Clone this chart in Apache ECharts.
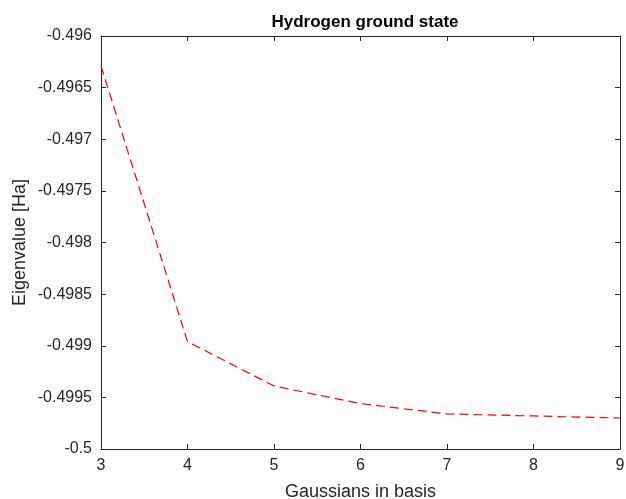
<!DOCTYPE html>
<html>
<head>
<meta charset="utf-8">
<script src="https://cdn.jsdelivr.net/npm/echarts@6/dist/echarts.min.js"></script>
<style>
  html, body { margin: 0; padding: 0; background: #fff; }
  #chart { width: 626px; height: 499px; }
</style>
</head>
<body>
<div id="chart"></div>
<script>
// Number of Gaussians in the basis and the resulting ground-state eigenvalue
const basisSizes = [3, 4, 5, 6, 7, 8, 9];
const eigenvalues = [-0.49629, -0.49896, -0.49939, -0.49956, -0.49966, -0.49968, -0.49970];

const axisColor = '#262626';
const fontFamily = 'Liberation Sans, Arial, Helvetica, sans-serif';

const fmtY = v => parseFloat(v.toFixed(4)).toString();

const chart = echarts.init(document.getElementById('chart'), null, { renderer: 'canvas' });

const baseX = {
  type: 'value', min: 3, max: 9, interval: 1,
  axisLine: { show: true, lineStyle: { color: axisColor, width: 1 } },
  axisTick: { show: true, inside: true, length: 5, lineStyle: { color: axisColor } },
  splitLine: { show: false }
};
const baseY = {
  type: 'value', min: -0.5, max: -0.496, interval: 0.0005,
  axisLine: { show: true, lineStyle: { color: axisColor, width: 1 } },
  axisTick: { show: true, inside: true, length: 5, lineStyle: { color: axisColor } },
  splitLine: { show: false }
};

chart.setOption({
  animation: false,
  backgroundColor: '#fff',
  title: {
    text: 'Hydrogen ground state',
    left: 360, top: 9, textAlign: 'center',
    textStyle: { fontFamily, fontSize: 17, fontWeight: 'bold', color: '#000' }
  },
  grid: { left: 101, right: 6, top: 36, bottom: 50, containLabel: false, outerBoundsMode: 'none' },
  xAxis: [
    Object.assign({}, baseX, {
      position: 'bottom',
      name: 'Gaussians in basis', nameLocation: 'middle', nameGap: 34,
      nameMoveOverlap: false,
      nameTextStyle: { fontFamily, fontSize: 18, color: axisColor },
      axisLabel: { fontFamily, fontSize: 16, color: axisColor, margin: 9 }
    }),
    Object.assign({}, baseX, { position: 'top', axisLabel: { show: false } })
  ],
  yAxis: [
    Object.assign({}, baseY, {
      position: 'left',
      name: 'Eigenvalue [Ha]', nameLocation: 'middle', nameGap: 72,
      nameMoveOverlap: false,
      nameTextStyle: { fontFamily, fontSize: 18, color: axisColor },
      axisLabel: { fontFamily, fontSize: 16, color: axisColor, margin: 9, formatter: fmtY }
    }),
    Object.assign({}, baseY, { position: 'right', axisLabel: { show: false } })
  ],
  series: [{
    type: 'line',
    xAxisIndex: 0, yAxisIndex: 0,
    data: basisSizes.map((n, i) => [n, eigenvalues[i]]),
    showSymbol: false,
    lineStyle: { color: '#ff0000', width: 1.2, type: [9, 5] }
  }]
});
</script>
</body>
</html>
